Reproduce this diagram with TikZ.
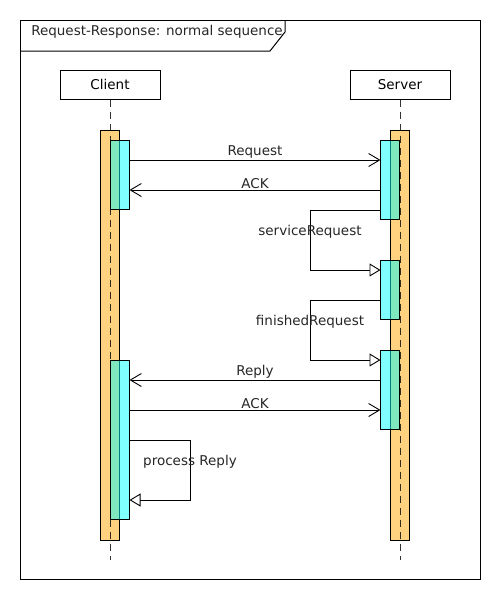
\documentclass[tikz,border=0pt]{standalone}
\usepackage{fontspec}
\setmainfont{DejaVu Sans}
\usetikzlibrary{arrows.meta}
\definecolor{barorange}{HTML}{FFD27F}
\definecolor{barcyan}{HTML}{00FFFF}
\tikzset{
  lifebox/.style={draw, fill=white, line width=1pt, minimum width=100pt, minimum height=29pt, inner sep=0pt, font=\fontsize{13.5}{15}\selectfont},
  lifeline/.style={line width=0.9pt, dash pattern=on 7pt off 5pt, draw=black, draw opacity=0.8},
  outerbar/.style={draw, line width=0.9pt, fill=barorange, minimum width=19pt, inner sep=0pt, anchor=north},
  innerbar/.style={draw, line width=0.9pt, fill=barcyan, fill opacity=0.5, minimum width=19pt, inner sep=0pt, anchor=north},
  msg/.style={line width=0.9pt, -{Straight Barb[length=11pt,width=13pt,line width=0.9pt]}},
  selfmsg/.style={line width=0.9pt, -{Triangle[open,length=11pt,width=13pt,line width=0.9pt,fill=white]}},
  lbl/.style={font=\fontsize{13.5}{15}\selectfont, inner sep=0pt, text=black!85}
}
\begin{document}
\begin{tikzpicture}[x=1pt,y=-1pt]
\useasboundingbox (0,0) rectangle (500,600);
% frame
\draw[line width=1pt] (20,20) rectangle (480,579);
\draw[line width=1pt] (20,51) -- (270,51) -- (285,32) -- (285,20);
\node[lbl] (title) at (157,32) {Request-Response: normal sequence};
% lifeline heads
\node[lifebox] (client) at (110,84.5) {Client};
\node[lifebox] (server) at (400,84.5) {Server};
% orange execution bars
\node[outerbar, minimum height=410pt] (cbar) at (110,130) {};
\node[outerbar, minimum height=410pt] (sbar) at (400,130) {};
% cyan activations
\node[innerbar, minimum height=69pt] (ca1) at (120,140) {};
\node[innerbar, minimum height=159pt] (ca2) at (120,360) {};
\node[innerbar, minimum height=79pt] (sa1) at (390,140) {};
\node[innerbar, minimum height=59pt] (sa2) at (390,260) {};
\node[innerbar, minimum height=79pt] (sa3) at (390,350) {};
% lifelines
\coordinate (cend) at (110,560);
\coordinate (send) at (400,560);
\draw[lifeline] (client.south) -- (cend);
\draw[lifeline] (server.south) -- (send);
% messages
\coordinate (c1) at (129.5,160);
\coordinate (s1) at (380.5,160);
\draw[msg] (c1) -- node[lbl, above=1pt] (m1) {Request} (s1);
\coordinate (c2) at (129.5,190);
\coordinate (s2) at (380.5,190);
\draw[msg] (s2) -- node[lbl, above=1pt] (m2) {ACK} (c2);
% self call serviceRequest
\coordinate (s3a) at (380.5,210);
\coordinate (s3b) at (380.5,270);
\draw[selfmsg] (s3a) -- (310,210) -- (310,270) -- (s3b);
\node[lbl] (m3) at (310,232) {serviceRequest};
% self call finishedRequest
\coordinate (s4a) at (380.5,300);
\coordinate (s4b) at (380.5,360);
\draw[selfmsg] (s4a) -- (310,300) -- (310,360) -- (s4b);
\node[lbl] (m4) at (310,322) {finishedRequest};
% reply
\coordinate (c5) at (129.5,380);
\coordinate (s5) at (380.5,380);
\draw[msg] (s5) -- node[lbl, above=1pt] (m5) {Reply} (c5);
\coordinate (c6) at (129.5,410);
\coordinate (s6) at (380.5,410);
\draw[msg] (c6) -- node[lbl, above=1pt] (m6) {ACK} (s6);
% process reply
\coordinate (c7a) at (129.5,440);
\coordinate (c7b) at (129.5,500);
\draw[selfmsg] (c7a) -- (190,440) -- (190,500) -- (c7b);
\node[lbl] (m7) at (190,462) {process Reply};
\end{tikzpicture}
\end{document}
